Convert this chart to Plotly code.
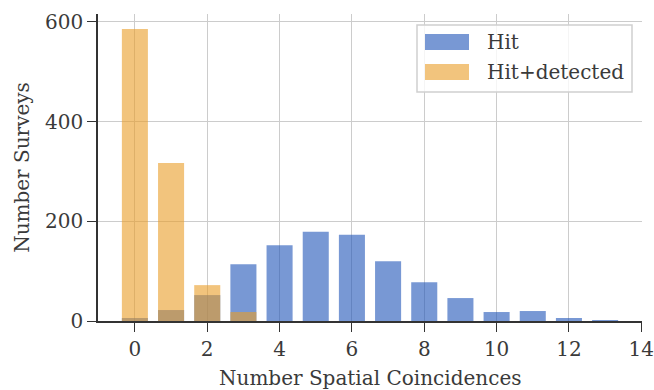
import plotly.graph_objects as go

coincidences = list(range(14))
hit = [6, 22, 52, 114, 152, 179, 173, 120, 78, 46, 18, 20, 6, 2]
hit_detected = [586, 317, 72, 18, 0, 0, 0, 0, 0, 0, 0, 0, 0, 0]
x_ticks = [0, 2, 4, 6, 8, 10, 12, 14]
y_ticks = [0, 200, 400, 600]

FONT = "DejaVu Serif"
TXT = "#3a3a3a"
BLUE = "rgba(30,83,183,0.6)"
ORANGE = "rgba(233,157,38,0.6)"
FS = 20

fig = go.Figure()
fig.add_trace(go.Bar(x=coincidences, y=hit, width=0.72, marker=dict(color=BLUE, line=dict(width=0)),
                     name="Hit", showlegend=False))
fig.add_trace(go.Bar(x=coincidences, y=hit_detected, width=0.72, marker=dict(color=ORANGE, line=dict(width=0)),
                     name="Hit+detected", showlegend=False))

fig.update_layout(
    width=654, height=390,
    margin=dict(l=98, r=12, t=14, b=69, autoexpand=False),
    barmode="overlay",
    plot_bgcolor="white", paper_bgcolor="white",
    font=dict(family=FONT, size=FS, color=TXT),
    xaxis=dict(range=[-1.02, 14.02], tickvals=x_ticks, showgrid=True, gridcolor="#cccccc", gridwidth=1,
               showline=True, linecolor="#333333", linewidth=1.6, ticks="outside", ticklen=9,
               tickcolor="#333333", tickwidth=1.4, zeroline=False, tickfont=dict(size=FS),
               ticklabeloverflow="allow", automargin=False),
    yaxis=dict(range=[0, 616], tickvals=y_ticks, showgrid=True, gridcolor="#cccccc", gridwidth=1,
               showline=True, linecolor="#333333", linewidth=1.6, ticks="outside", ticklen=9,
               tickcolor="#333333", tickwidth=1.4, zeroline=False, tickfont=dict(size=FS),
               automargin=False,
               title=dict(text="Number Surveys", standoff=10, font=dict(size=FS))),
)

fig.add_annotation(xref="paper", yref="paper", x=0.5, y=-0.14, yanchor="top", xanchor="center",
                   text="Number Spatial Coincidences", showarrow=False, font=dict(size=FS, color=TXT, family=FONT))

# manual legend
def px_x(p):
    return (p - 98) / 544
def px_y(p):
    return 1 - (p - 14) / 307

fig.add_shape(type="rect", xref="paper", yref="paper", x0=px_x(417), x1=px_x(632), y0=px_y(92), y1=px_y(25),
              line=dict(color="#d0d0d0", width=1.5), fillcolor="rgba(255,255,255,0.8)", layer="above")
for name, col, yc in [("Hit", BLUE, 42), ("Hit+detected", ORANGE, 72)]:
    fig.add_shape(type="rect", xref="paper", yref="paper", x0=px_x(425), x1=px_x(469),
                  y0=px_y(yc + 8), y1=px_y(yc - 8), line=dict(width=0), fillcolor=col, layer="above")
    fig.add_annotation(xref="paper", yref="paper", x=px_x(485), y=px_y(yc), xanchor="left", yanchor="middle",
                       text=name, showarrow=False, font=dict(size=FS, color=TXT, family=FONT))

fig.write_html("out.html")
